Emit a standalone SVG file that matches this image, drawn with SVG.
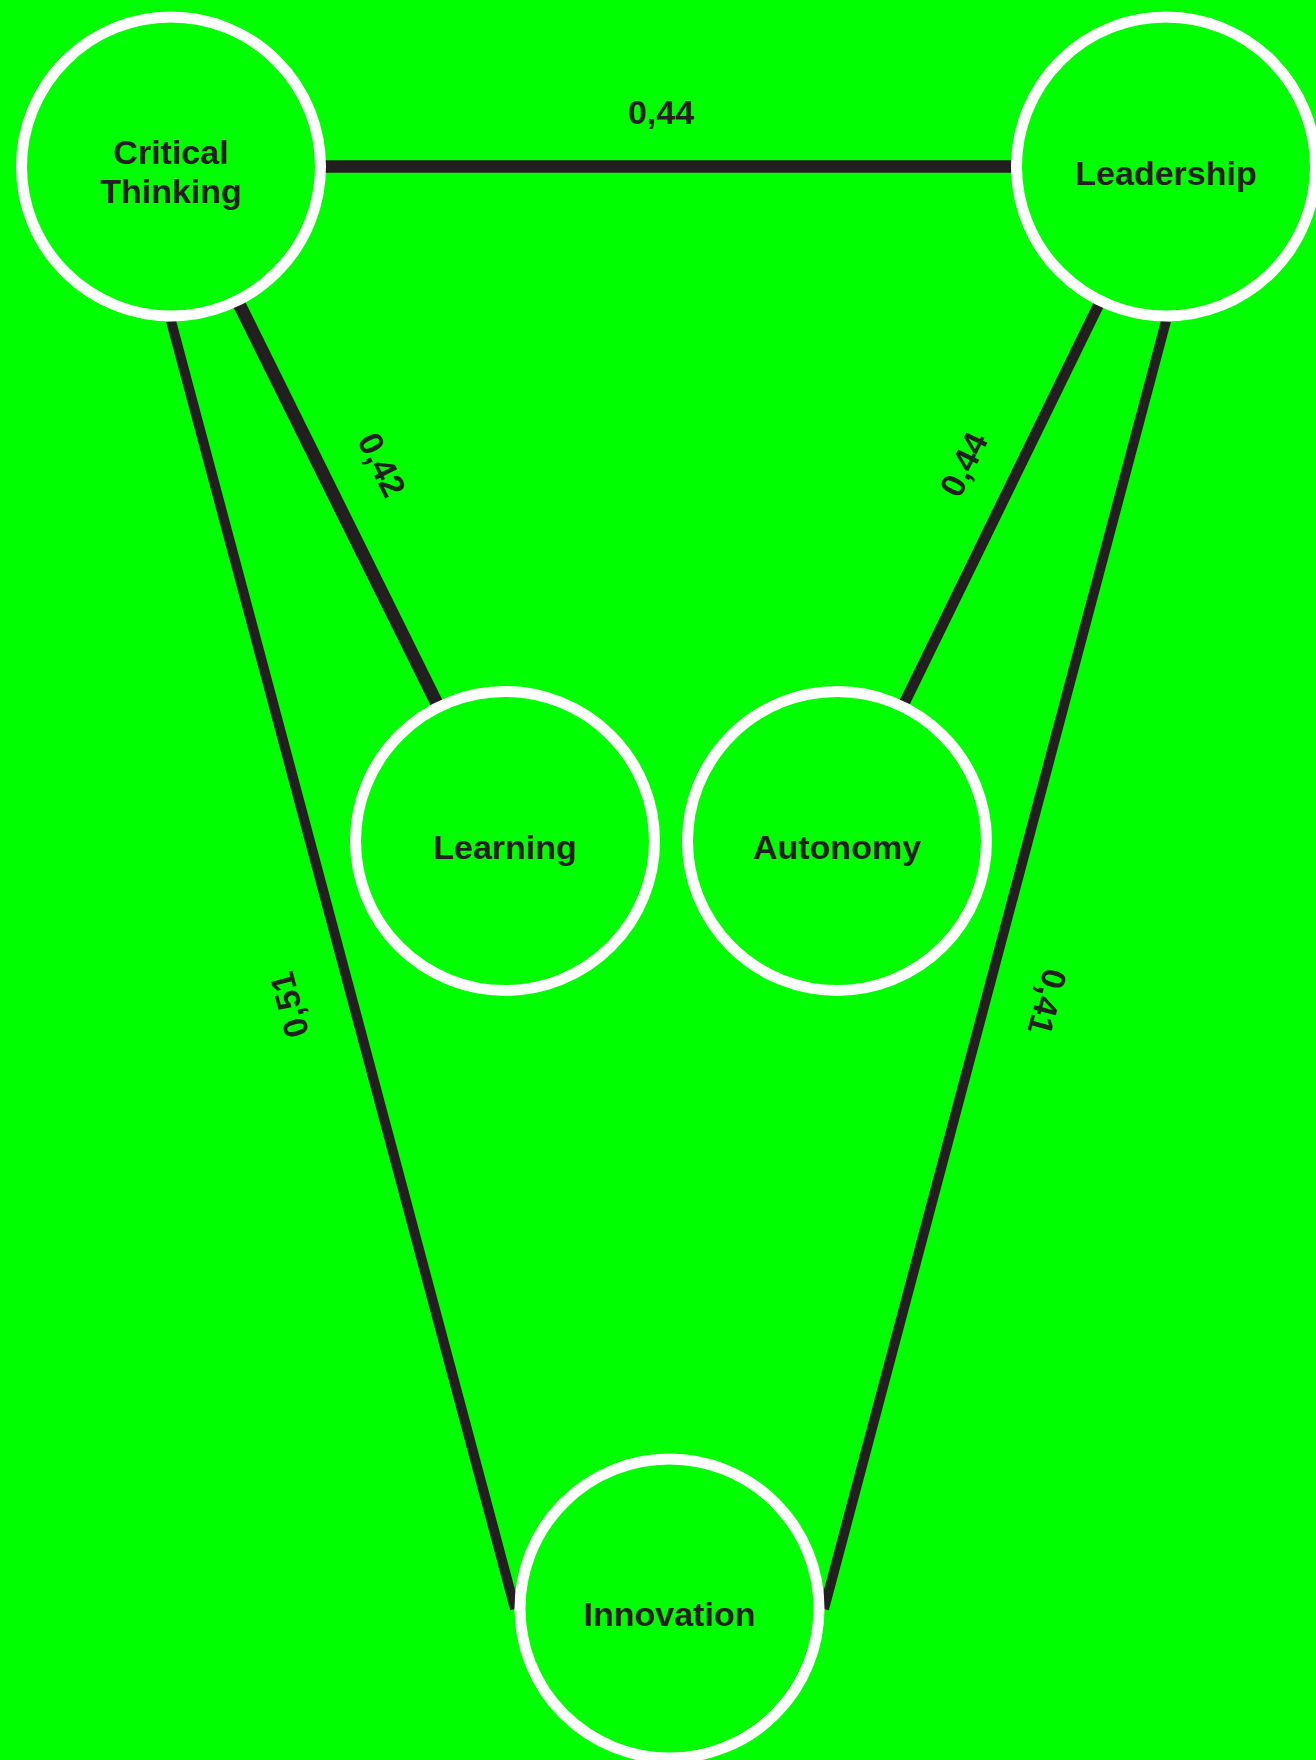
<svg xmlns="http://www.w3.org/2000/svg" width="1316" height="1760" viewBox="0 0 1316 1760">
<style>
.bg{fill:#00ff00}
.node{fill:#00ff00;stroke:#ffffff;stroke-width:11}
.edge{stroke:#231f20;fill:none;stroke-linecap:butt}
.lbl{font-family:"Liberation Sans",Arial,Helvetica,sans-serif;font-weight:bold;font-size:34px;fill:#231f20;text-anchor:middle}
</style>
<rect class="bg" x="0" y="0" width="1316" height="1760"/>
<g id="connectors">
<line class="edge" x1="171" y1="166.5" x2="1166" y2="166.5" stroke-width="12.5"/>
<line class="edge" x1="171" y1="166.5" x2="505" y2="841" stroke-width="13"/>
<line class="edge" x1="1166" y1="166.5" x2="837" y2="841" stroke-width="11"/>
<line class="edge" x1="171" y1="321" x2="515" y2="1609" stroke-width="10"/>
<line class="edge" x1="1166" y1="321" x2="824" y2="1609" stroke-width="10"/>
<text class="lbl" x="661" y="124">0,44</text>
<text class="lbl" transform="translate(382.5,464.5) rotate(63.7)" y="12.5">0,42</text>
<text class="lbl" transform="translate(963,464) rotate(-64)" y="12.5">0,44</text>
<text class="lbl" transform="translate(288.5,1005) rotate(-105)" y="12.5">0,51</text>
<text class="lbl" transform="translate(1048,1002) rotate(105)" y="12.5">0,41</text>
</g>
<g id="node-critical-thinking">
<circle class="node" cx="171" cy="166.5" r="149.5"/>
<text class="lbl" x="171" y="164">Critical</text>
<text class="lbl" x="171" y="202.7">Thinking</text>
</g>
<g id="node-leadership">
<circle class="node" cx="1166" cy="166.5" r="149.5"/>
<text class="lbl" x="1166" y="184.5">Leadership</text>
</g>
<g id="node-learning">
<circle class="node" cx="505" cy="841" r="149.5"/>
<text class="lbl" x="505" y="859">Learning</text>
</g>
<g id="node-autonomy">
<circle class="node" cx="837" cy="841" r="149.5"/>
<text class="lbl" x="837" y="859">Autonomy</text>
</g>
<g id="node-innovation">
<circle class="node" cx="669.5" cy="1608.5" r="149.5"/>
<text class="lbl" x="669.5" y="1626">Innovation</text>
</g>
</svg>
